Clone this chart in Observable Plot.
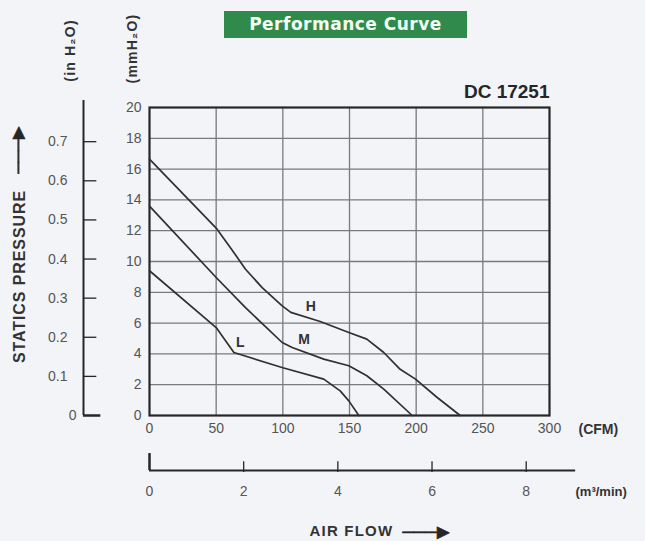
<!DOCTYPE html>
<html>
<head>
<meta charset="utf-8">
<script src="https://cdn.jsdelivr.net/npm/d3@7"></script>
<script src="https://cdn.jsdelivr.net/npm/@observablehq/plot@0.6"></script>
<style>
  html, body { margin: 0; padding: 0; background: #f3f4f8; }
  #wrap { position: relative; width: 645px; height: 541px; overflow: hidden; }
  #title {
    position: absolute; left: 224px; top: 11px; width: 243px; height: 27px;
    background: #2f8a4c; color: #f4fff4; font: bold 17px "DejaVu Sans", sans-serif;
    text-align: center; line-height: 27px; letter-spacing: 0.5px;
  }
  .wide text { letter-spacing: 1.2px; }
  .wider text { letter-spacing: 0.9px; }
  .air text { letter-spacing: 1.2px; }
</style>
</head>
<body>
<div id="wrap"><div id="title">Performance Curve</div></div>
<script>
// ---- data ----
const modelName = "DC 17251";
const fanNames = ["H", "M", "L"];
const cfmH = [0, 50, 60.7, 72, 84.5, 99.5, 106, 128, 149.5, 163, 175.7, 188, 199.5, 215.8, 233];
const mmH  = [16.65, 12.17, 10.9, 9.5, 8.3, 7.12, 6.7, 6.1, 5.39, 4.96, 4.09, 3.0, 2.36, 1.17, 0];
const cfmM = [0, 50, 72, 99.5, 107, 130.7, 149.5, 163, 175.7, 197];
const mmM  = [13.6, 8.96, 7.0, 4.74, 4.42, 3.66, 3.23, 2.58, 1.71, 0];
const cfmL = [0, 50, 63.3, 100, 130.7, 143, 149.5, 157];
const mmL  = [9.4, 5.71, 4.09, 3.1, 2.36, 1.6, 0.95, 0];
const labelCfm = [121, 116, 68];
const labelMm  = [7.1, 4.95, 4.75];
const cfmTicks = [0, 50, 100, 150, 200, 250, 300];
const mmTicks  = [0, 2, 4, 6, 8, 10, 12, 14, 16, 18, 20];
const inTicks  = [0, 0.1, 0.2, 0.3, 0.4, 0.5, 0.6, 0.7];
const m3Ticks  = [0, 2, 4, 6, 8];

const CFM_PER_M3 = 35.3147;
const MM_PER_IN = 25.4;

const rows = [
  ...cfmH.map((c, i) => ({fan: "H", cfm: c, mm: mmH[i]})),
  ...cfmM.map((c, i) => ({fan: "M", cfm: c, mm: mmM[i]})),
  ...cfmL.map((c, i) => ({fan: "L", cfm: c, mm: mmL[i]}))
];
const labels = fanNames.map((f, i) => ({fan: f, cfm: labelCfm[i], mm: labelMm[i]}));

const ink = "#262626";
const gray = "#555";
const mid = {textAnchor: "middle", lineAnchor: "middle"};

const chart = Plot.plot({
  width: 645, height: 541,
  marginLeft: 149, marginRight: 96, marginTop: 107, marginBottom: 126,
  x: {domain: [0, 300]},
  y: {domain: [0, 20]},
  style: {background: "transparent", fontFamily: "'Liberation Sans', Arial, sans-serif", fontSize: "14px", color: ink, overflow: "visible"},
  marks: [
    // grid
    Plot.ruleX(cfmTicks.slice(1, -1), {stroke: "#7a7a7a", strokeWidth: 1.3}),
    Plot.ruleY(mmTicks.slice(1, -1), {stroke: "#7a7a7a", strokeWidth: 1.3}),
    Plot.frame({stroke: ink, strokeWidth: 2.2}),
    // curves
    Plot.line(rows, {x: "cfm", y: "mm", z: "fan", stroke: "#303030", strokeWidth: 1.7, curve: "linear"}),
    Plot.text(labels, {x: "cfm", y: "mm", text: "fan", fontWeight: "bold", fontSize: 14, fill: "#333"}),
    // main axes
    Plot.axisY(mmTicks, {tickSize: 0, tickPadding: 8, label: null, fontSize: 14, color: gray}),
    Plot.axisX(cfmTicks, {tickSize: 0, tickPadding: 8, label: null, fontSize: 14, color: gray}),
    // inch H2O secondary axis
    Plot.ruleX([0], {y1: 0, y2: 20.45, dx: -66, stroke: ink, strokeWidth: 2}),
    Plot.ruleY(inTicks.slice(1), {y: d => d * MM_PER_IN, x1: 0, x2: 10, dx: -66, stroke: ink, strokeWidth: 1.3}),
    Plot.ruleY([0], {x1: 0, x2: 13, dx: -66, stroke: ink, strokeWidth: 2.5}),
    Plot.text(inTicks.slice(1), {x: 0, y: d => d * MM_PER_IN, dx: -82, textAnchor: "end", text: d => d.toFixed(1), fontSize: 14, fill: gray}),
    Plot.text(inTicks.slice(0, 1), {x: 0, y: d => d * MM_PER_IN, dx: -73, textAnchor: "end", text: d => String(d), fontSize: 14, fill: gray}),
    // m3/min secondary axis
    Plot.ruleY([0], {x1: 0, x2: 9.05 * CFM_PER_M3, dy: 55, stroke: ink, strokeWidth: 2}),
    Plot.ruleX([0], {y1: 0, y2: 1.1, dy: 55, stroke: ink, strokeWidth: 2.5}),
    Plot.ruleX(m3Ticks.slice(1), {x: d => d * CFM_PER_M3, y1: 0, y2: 0.7, dy: 57, stroke: ink, strokeWidth: 1.3}),
    Plot.text(m3Ticks, {x: d => d * CFM_PER_M3, y: 0, dy: 76, text: d => String(d), fontSize: 14, fill: gray}),
    // unit labels
    Plot.text(["(CFM)"], {frameAnchor: "bottom-right", dx: 29, dy: 14, textAnchor: "start", lineAnchor: "middle", fontWeight: "bold", fontSize: 14, fill: "#333"}),
    Plot.text(["(m³/min)"], {frameAnchor: "bottom-right", dx: 26, dy: 76, textAnchor: "start", lineAnchor: "middle", fontWeight: "bold", fontSize: 13, fill: "#333"}),
    Plot.text(["(in H₂O)"], {frameAnchor: "top-left", dx: -79, dy: -57, rotate: -90, ...mid, fontWeight: "bold", fontSize: 14, fill: "#333", className: "wide"}),
    Plot.text(["(mmH₂O)"], {frameAnchor: "top-left", dx: -17, dy: -59, rotate: -90, ...mid, fontWeight: "bold", fontSize: 14, fill: "#333", className: "wide"}),
    Plot.text([modelName], {frameAnchor: "top-right", dy: -10, lineAnchor: "bottom", textAnchor: "end", fontWeight: "bold", fontSize: 19, fill: ink}),
    // axis titles
    Plot.text(["STATICS PRESSURE"], {frameAnchor: "top-left", dx: -130, dy: 169, rotate: -90, ...mid, fontWeight: "bold", fontSize: 16, fill: "#333", className: "wider"}),
    Plot.text(["───▶"], {frameAnchor: "top-left", dx: -132, dy: 43, rotate: -90, ...mid, fontSize: 16, fill: ink, stroke: ink, strokeWidth: 0.7}),
    Plot.text(["AIR FLOW"], {frameAnchor: "bottom-left", dx: 160, dy: 116, textAnchor: "start", lineAnchor: "middle", fontWeight: "bold", fontSize: 15, fill: "#333", className: "air"}),
    Plot.text(["───▶"], {frameAnchor: "bottom-left", dx: 253, dy: 116, textAnchor: "start", lineAnchor: "middle", fontSize: 16, fill: ink, stroke: ink, strokeWidth: 0.7})
  ]
});
chart.style.position = "absolute";
chart.style.left = "0";
chart.style.top = "0";
document.getElementById("wrap").prepend(chart);
</script>
</body>
</html>
